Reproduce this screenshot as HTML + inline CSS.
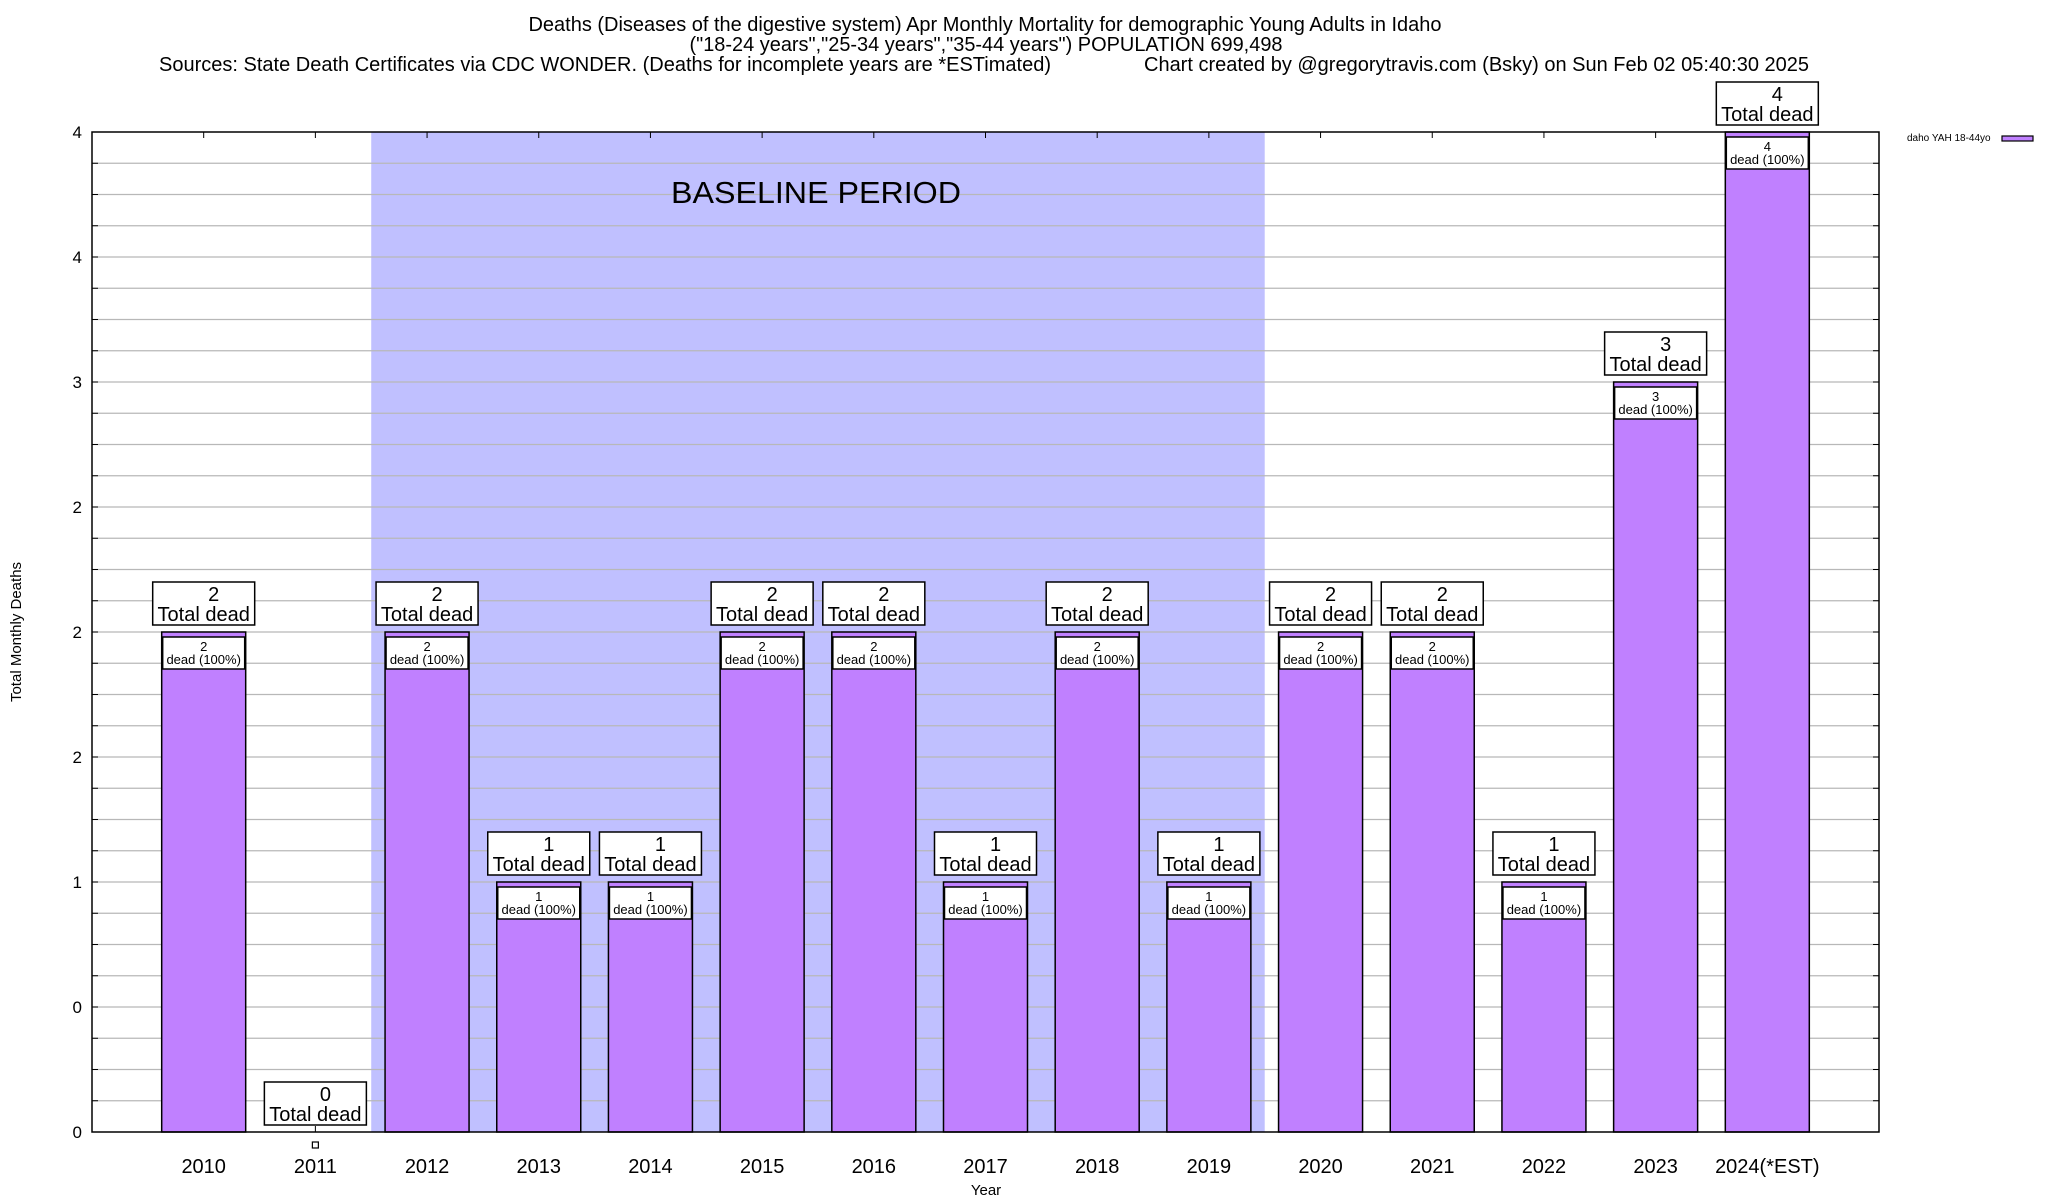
<!DOCTYPE html>
<html><head><meta charset="utf-8"><style>
html,body{margin:0;padding:0;background:#fff;}
svg{display:block;font-family:"Liberation Sans",sans-serif;}
</style></head><body>
<svg id="chart" width="2048" height="1200" viewBox="0 0 2048 1200" xmlns="http://www.w3.org/2000/svg">
<g font-size="20" text-anchor="middle">
<text x="985" y="31" textLength="913" lengthAdjust="spacingAndGlyphs">Deaths (Diseases of the digestive system) Apr Monthly Mortality for demographic Young Adults in Idaho</text>
<text x="986" y="51" textLength="593" lengthAdjust="spacingAndGlyphs">("18-24 years","25-34 years","35-44 years") POPULATION 699,498</text>
<text x="159" y="71" text-anchor="start" textLength="892" lengthAdjust="spacingAndGlyphs">Sources: State Death Certificates via CDC WONDER. (Deaths for incomplete years are *ESTimated)</text>
<text x="1144" y="71" text-anchor="start" textLength="665" lengthAdjust="spacingAndGlyphs">Chart created by @gregorytravis.com (Bsky) on Sun Feb 02 05:40:30 2025</text>
</g>
<g id="plot"></g>
</svg>
<script>
const categories = ["2010","2011","2012","2013","2014","2015","2016","2017","2018","2019","2020","2021","2022","2023","2024(*EST)"];
const deaths = [2,0,2,1,1,2,2,1,2,1,2,2,1,3,4];
const yTickValues = [0,0.5,1,1.5,2,2.5,3,3.5,4];
const yTickLabels = ["0","0","1","2","2","2","3","4","4"];
const baselineStart = 1.5, baselineEnd = 9.5;

const NS = "http://www.w3.org/2000/svg";
const L = 92, R = 1879, T = 132, B = 1132;
const xMin = -1, xMax = 15, yMin = 0, yMax = 4;
const xs = v => L + (v - xMin) / (xMax - xMin) * (R - L);
const ys = v => B - (v - yMin) / (yMax - yMin) * (B - T);
const g = document.getElementById('plot');
function el(tag, attrs, parent) {
  const e = document.createElementNS(NS, tag);
  for (const k in attrs) e.setAttribute(k, attrs[k]);
  (parent || g).appendChild(e);
  return e;
}
const bp = el('rect', {x: xs(baselineStart), y: T, width: xs(baselineEnd) - xs(baselineStart), height: B - T, fill: '#c0c0ff'});


for (let v = 0.125; v < 4; v += 0.125) {
  const ln = el('line', {x1: L, x2: R, y1: ys(v), y2: ys(v), stroke: '#b8b8b8', 'stroke-width': 1.3});
  
  
  const tl = el('line', {x1: L, x2: L + 6, y1: ys(v), y2: ys(v), stroke: '#000'});
  
  
  const tr = el('line', {x1: R - 6, x2: R, y1: ys(v), y2: ys(v), stroke: '#000'});
  
  
}
const bt = el('text', {x: 816, y: 203, 'font-size': 31, 'text-anchor': 'middle', textLength: 290, lengthAdjust: 'spacingAndGlyphs'});
bt.textContent = 'BASELINE PERIOD';


yTickValues.forEach((v, i) => {
  const t = el('text', {x: 82, y: ys(v) + 6, 'font-size': 17, 'text-anchor': 'end'});
  t.textContent = yTickLabels[i];
  
  
});
const bw = 84;
categories.forEach((c, i) => {
  const cx = xs(i), v = deaths[i];
  const tk = el('line', {x1: cx, x2: cx, y1: T, y2: T + 6, stroke: '#000'});
  
  
  const tb = el('line', {x1: cx, x2: cx, y1: B, y2: B - 6, stroke: '#000'});
  
  
  if (v > 0) {
    const r = el('rect', {x: cx - bw / 2, y: ys(v), width: bw, height: B - ys(v), fill: '#c080ff', stroke: '#000', 'stroke-width': 1.5});
    
    
    const ib = el('rect', {x: cx - 41, y: ys(v) + 5, width: 82, height: 32, fill: '#fff', stroke: '#000', 'stroke-width': 1.5});
    
    
    const t1 = el('text', {x: cx, y: ys(v) + 19, 'font-size': 13, 'text-anchor': 'middle'});
    t1.textContent = String(v);
    
    
    const t2 = el('text', {x: cx, y: ys(v) + 32, 'font-size': 13, 'text-anchor': 'middle'});
    t2.textContent = 'dead (100%)';
    
    
  } else {
    const m = el('rect', {x: cx - 3, y: B + 10, width: 6, height: 6, fill: '#fff', stroke: '#000', 'stroke-width': 1.2});
    
    
  }
  const by = ys(v) - 7;
  const ob = el('rect', {x: cx - 51, y: by - 43, width: 102, height: 43, fill: '#fff', stroke: '#000', 'stroke-width': 1.5});
  
  
  const o1 = el('text', {x: cx + 10, y: by - 24, 'font-size': 20, 'text-anchor': 'middle'});
  o1.textContent = String(v);
  
  
  const o2 = el('text', {x: cx, y: by - 4, 'font-size': 20, 'text-anchor': 'middle'});
  o2.textContent = 'Total dead';
  
  
  const xl = el('text', {x: cx, y: B + 41, 'font-size': 20, 'text-anchor': 'middle'});
  xl.textContent = c;
  
  
});
const fr = el('rect', {x: L, y: T, width: R - L, height: B - T, fill: 'none', stroke: '#000', 'stroke-width': 1.5});


const xt = el('text', {x: 986, y: 1195, 'font-size': 15, 'text-anchor': 'middle'});
xt.textContent = 'Year';


const yt = el('text', {x: 0, y: 0, 'font-size': 15, 'text-anchor': 'middle', transform: 'translate(21,632) rotate(-90)'});
yt.textContent = 'Total Monthly Deaths';


const lt = el('text', {x: 1907, y: 141, 'font-size': 10});
lt.textContent = 'daho YAH 18-44yo';


const ls = el('rect', {x: 2002, y: 136, width: 31, height: 5, fill: '#c080ff', stroke: '#000', 'stroke-width': 1.2});


</script>
</body></html>
